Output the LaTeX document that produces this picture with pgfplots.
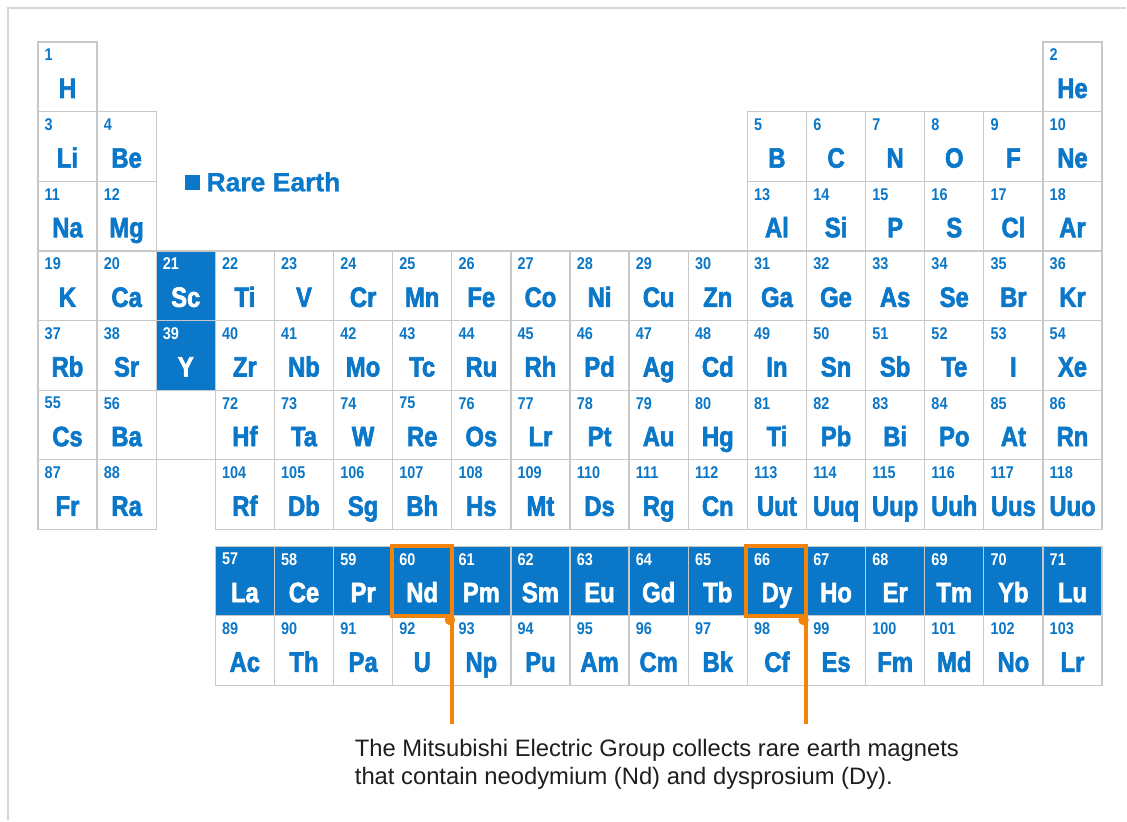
\documentclass[border=0pt]{standalone}
\usepackage{pgfplots}
\pgfplotsset{compat=1.18}
\usepackage{pgfplotstable}
\usepackage{fontspec}
\setmainfont{Liberation Sans}
\newfontfamily\condfont[FakeStretch=0.85, FakeBold=2.2]{Liberation Sans}
\newfontfamily\numfont[FakeStretch=0.85]{Liberation Sans}
\newfontfamily\legfont[FakeBold=0.8]{Liberation Sans}
\definecolor{reblue}{RGB}{10,119,200}
\definecolor{cellgray}{RGB}{200,200,200}
\definecolor{framegray}{RGB}{215,215,215}
\definecolor{orangec}{RGB}{242,132,14}
\definecolor{captiongray}{RGB}{30,30,30}

% n = atomic number, sym = symbol as printed, c = column, r = row
\pgfplotstableread{
n sym c r
1 H 1 1
2 He 18 1
3 Li 1 2
4 Be 2 2
5 B 13 2
6 C 14 2
7 N 15 2
8 O 16 2
9 F 17 2
10 Ne 18 2
11 Na 1 3
12 Mg 2 3
13 Al 13 3
14 Si 14 3
15 P 15 3
16 S 16 3
17 Cl 17 3
18 Ar 18 3
19 K 1 4
20 Ca 2 4
22 Ti 4 4
23 V 5 4
24 Cr 6 4
25 Mn 7 4
26 Fe 8 4
27 Co 9 4
28 Ni 10 4
29 Cu 11 4
30 Zn 12 4
31 Ga 13 4
32 Ge 14 4
33 As 15 4
34 Se 16 4
35 Br 17 4
36 Kr 18 4
37 Rb 1 5
38 Sr 2 5
40 Zr 4 5
41 Nb 5 5
42 Mo 6 5
43 Tc 7 5
44 Ru 8 5
45 Rh 9 5
46 Pd 10 5
47 Ag 11 5
48 Cd 12 5
49 In 13 5
50 Sn 14 5
51 Sb 15 5
52 Te 16 5
53 I 17 5
54 Xe 18 5
55 Cs 1 6
56 Ba 2 6
72 Hf 4 6
73 Ta 5 6
74 W 6 6
75 Re 7 6
76 Os 8 6
77 Lr 9 6
78 Pt 10 6
79 Au 11 6
80 Hg 12 6
81 Ti 13 6
82 Pb 14 6
83 Bi 15 6
84 Po 16 6
85 At 17 6
86 Rn 18 6
87 Fr 1 7
88 Ra 2 7
104 Rf 4 7
105 Db 5 7
106 Sg 6 7
107 Bh 7 7
108 Hs 8 7
109 Mt 9 7
110 Ds 10 7
111 Rg 11 7
112 Cn 12 7
113 Uut 13 7
114 Uuq 14 7
115 Uup 15 7
116 Uuh 16 7
117 Uus 17 7
118 Uuo 18 7
89 Ac 4 9.24
90 Th 5 9.24
91 Pa 6 9.24
92 U 7 9.24
93 Np 8 9.24
94 Pu 9 9.24
95 Am 10 9.24
96 Cm 11 9.24
97 Bk 12 9.24
98 Cf 13 9.24
99 Es 14 9.24
100 Fm 15 9.24
101 Md 16 9.24
102 No 17 9.24
103 Lr 18 9.24
}\normaltbl

% rare earth elements
\pgfplotstableread{
n sym c r
21 Sc 3 4
39 Y 3 5
57 La 4 8.24
58 Ce 5 8.24
59 Pr 6 8.24
60 Nd 7 8.24
61 Pm 8 8.24
62 Sm 9 8.24
63 Eu 10 8.24
64 Gd 11 8.24
65 Tb 12 8.24
66 Dy 13 8.24
67 Ho 14 8.24
68 Er 15 8.24
69 Tm 16 8.24
70 Yb 17 8.24
71 Lu 18 8.24
}\raretbl

\pgfplotsset{
  cellstyle/.style={only marks, mark=square*, mark size=29.585pt,
    mark options={yscale=1.178, draw=cellgray, line width=1.3pt, fill=#1}},
  symstyle/.style={draw=none, mark=none, nodes near coords, point meta=explicit symbolic,
    every node near coord/.append style={anchor=base, yshift=-21.2pt, inner sep=0pt,
      font=\condfont\bfseries\fontsize{28}{28}\selectfont, text=#1}},
  numstyle/.style={draw=none, mark=none, nodes near coords, point meta=explicit symbolic,
    every node near coord/.append style={anchor=west, xshift=-23pt, yshift=21.8pt, inner sep=0pt,
      font=\numfont\bfseries\fontsize{17}{17}\selectfont, text=#1}},
}

\begin{document}
\begin{tikzpicture}
\begin{axis}[
  scale only axis, width=1127pt, height=821pt,
  xmin=-0.142, xmax=18.905, ymin=-0.1026, ymax=11.6765,
  y dir=reverse, clip=false, clip marker paths=true, clip mode=individual,
  axis line style={draw=none}, xtick=\empty, ytick=\empty,
]
% invisible corners keep the full page
\addplot[draw=none] coordinates {(-0.142,-0.1026) (18.905,11.6765)};
% outer frame (left and top edges)
\addplot[framegray, line width=2pt] coordinates {(-0.0068,11.6765) (-0.0068,0.0122) (18.905,0.0122)};

% cells
\addplot[cellstyle=white] table[x=c, y=r] {\normaltbl};
\addplot[cellstyle=white] coordinates {(3,6)};
\addplot[cellstyle=reblue] table[x=c, y=r] {\raretbl};

% symbols and atomic numbers
\addplot[symstyle=reblue] table[x=c, y=r, meta=sym] {\normaltbl};
\addplot[numstyle=reblue] table[x=c, y=r, meta=n] {\normaltbl};
\addplot[symstyle=white] table[x=c, y=r, meta=sym] {\raretbl};
\addplot[numstyle=white] table[x=c, y=r, meta=n] {\raretbl};

% legend: Rare Earth
\addplot[reblue, only marks, mark=square*, mark size=7pt, mark options={fill=reblue, draw=none},
  nodes near coords={Rare Earth},
  every node near coord/.append style={anchor=west, xshift=14.5pt, inner sep=0pt,
    font=\legfont\bfseries\fontsize{26.5}{26.5}\selectfont, text=reblue}]
  coordinates {(3.103,2.509)};

% highlight boxes: Nd and Dy
\addplot[orangec, line width=4.5pt, line join=miter] coordinates {(6.49,7.74) (7.505,7.74) (7.505,8.74) (6.49,8.74)} -- cycle;
\addplot[orangec, line width=4.5pt] coordinates {(7.505,8.74) (7.505,10.299)};
\addplot[only marks, mark=*, mark size=5pt, orangec] coordinates {(7.47,8.80)};
\addplot[orangec, line width=4.5pt, line join=miter] coordinates {(12.474,7.74) (13.488,7.74) (13.488,8.74) (12.474,8.74)} -- cycle;
\addplot[orangec, line width=4.5pt] coordinates {(13.488,8.74) (13.488,10.299)};
\addplot[only marks, mark=*, mark size=5pt, orangec] coordinates {(13.45,8.80)};

% caption
\node[anchor=base west, inner sep=0pt, text=captiongray, font=\fontsize{23.8}{23.8}\selectfont]
  at (axis cs:5.858,10.758) {The Mitsubishi Electric Group collects rare earth magnets};
\node[anchor=base west, inner sep=0pt, text=captiongray, font=\fontsize{23.8}{23.8}\selectfont]
  at (axis cs:5.858,11.160) {that contain neodymium (Nd) and dysprosium (Dy).};
\end{axis}
\end{tikzpicture}
\end{document}
